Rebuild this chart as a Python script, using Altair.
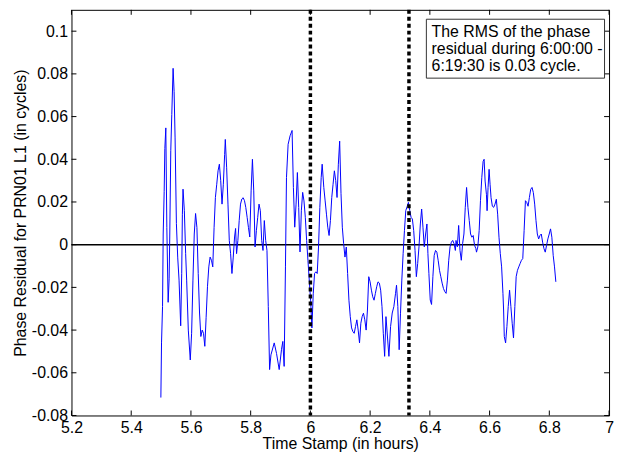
import altair as alt
import pandas as pd

# ---- data ----
time_hours = [
    5.4993, 5.5015, 5.5049, 5.5071, 5.5104, 5.5126, 5.5159, 5.5193, 5.5237, 5.5270,
    5.5292, 5.5325, 5.5359, 5.5403, 5.5436, 5.5469, 5.5513, 5.5558, 5.5602, 5.5657,
    5.5691, 5.5713, 5.5735, 5.5779, 5.5823, 5.5857, 5.5912, 5.5978, 5.6023, 5.6067,
    5.6111, 5.6155, 5.6200, 5.6244, 5.6288, 5.6332, 5.6377, 5.6421, 5.6465, 5.6509,
    5.6554, 5.6598, 5.6642, 5.6687, 5.6731, 5.6775, 5.6819, 5.6864, 5.6908, 5.6952,
    5.6997, 5.7041, 5.7085, 5.7129, 5.7151, 5.7196, 5.7240, 5.7284, 5.7328, 5.7373,
    5.7417, 5.7461, 5.7495, 5.7528, 5.7572, 5.7616, 5.7660, 5.7705, 5.7749, 5.7793,
    5.7837, 5.7882, 5.7926, 5.7970, 5.8015, 5.8059, 5.8103, 5.8147, 5.8192, 5.8236,
    5.8280, 5.8324, 5.8369, 5.8413, 5.8457, 5.8502, 5.8546, 5.8590,
    5.8634, 5.8679, 5.8789, 5.8867, 5.8955, 5.9033, 5.9077, 5.9121, 5.9165, 5.9199,
    5.9254, 5.9320, 5.9387, 5.9431, 5.9475, 5.9520, 5.9564, 5.9608, 5.9652, 5.9697,
    5.9741, 5.9785, 5.9830, 5.9874, 5.9918, 5.9962, 6.0007, 6.0051, 6.0095, 6.0139,
    6.0184, 6.0228, 6.0272, 6.0316, 6.0361, 6.0394, 6.0449, 6.0494, 6.0538, 6.0582,
    6.0626, 6.0671, 6.0715, 6.0759, 6.0803, 6.0848, 6.0892, 6.0936, 6.0980, 6.1025,
    6.1069, 6.1113, 6.1158, 6.1202, 6.1246, 6.1290, 6.1335, 6.1379, 6.1423, 6.1467,
    6.1512, 6.1556, 6.1600, 6.1645, 6.1689, 6.1733, 6.1777, 6.1822, 6.1866, 6.1910,
    6.1954, 6.1999, 6.2043, 6.2087, 6.2131, 6.2176, 6.2220, 6.2264, 6.2309, 6.2353,
    6.2397, 6.2441, 6.2486, 6.2530,
    6.2629, 6.2685, 6.2740, 6.2795, 6.2851, 6.2884, 6.2928, 6.2972, 6.3017, 6.3061,
    6.3105, 6.3149, 6.3194, 6.3238, 6.3282, 6.3327, 6.3371, 6.3415, 6.3459, 6.3504,
    6.3548, 6.3592, 6.3636, 6.3681, 6.3725, 6.3769, 6.3813, 6.3858, 6.3902, 6.3935,
    6.3968, 6.4013, 6.4057, 6.4101, 6.4145, 6.4190, 6.4234, 6.4278, 6.4323, 6.4367,
    6.4411, 6.4455, 6.4500, 6.4544, 6.4588, 6.4632, 6.4677, 6.4721, 6.4765, 6.4810,
    6.4854, 6.4876, 6.4920, 6.4964, 6.5009, 6.5053, 6.5097, 6.5141, 6.5186, 6.5230,
    6.5274, 6.5319, 6.5363, 6.5407, 6.5451, 6.5496, 6.5540,
    6.5562, 6.5606, 6.5651, 6.5695, 6.5739, 6.5783, 6.5817, 6.5850, 6.5894, 6.5916,
    6.5949, 6.5983, 6.6016, 6.6049, 6.6093, 6.6137, 6.6182, 6.6226, 6.6270, 6.6315,
    6.6359, 6.6403, 6.6447, 6.6469, 6.6492, 6.6536, 6.6580, 6.6624, 6.6669, 6.6713,
    6.6757, 6.6801, 6.6846, 6.6890, 6.6934, 6.6978, 6.7023, 6.7067, 6.7111, 6.7156,
    6.7200, 6.7244, 6.7288, 6.7333, 6.7377, 6.7421, 6.7465, 6.7510, 6.7554, 6.7598,
    6.7643, 6.7687, 6.7731, 6.7775, 6.7820, 6.7864, 6.7908, 6.7952, 6.7997, 6.8041,
    6.8085, 6.8130, 6.8174, 6.8218,
]

residual_cycles = [
    -0.0716, -0.046, -0.029, 0.005, 0.025, 0.045, 0.0547, 0.008, -0.027, -0.016,
    0.005, 0.044, 0.061, 0.0826, 0.0718, 0.05, 0.0099, -0.0062, -0.0166, -0.038,
    -0.0134, 0.014, 0.026, 0.0161, -0.0042, -0.0166, -0.040, -0.054, -0.0415, -0.0166,
    0.005, 0.0146, 0.008, -0.0135, -0.032, -0.043, -0.040, -0.0415, -0.0476, -0.034,
    -0.0197, -0.0104, -0.0058, -0.0073, -0.0104, 0.008, 0.0221, 0.0283, 0.0346, 0.0377,
    0.030, 0.019, 0.0283, 0.0423, 0.0493, 0.036, 0.019, 0.002, -0.0042, -0.0135,
    -0.0058, 0.0036, 0.0076, -0.0042, 0.002, 0.0113, 0.019, 0.0214, 0.022, 0.0206,
    0.0174, 0.0128, 0.008, 0.0036, 0.0252, 0.040, 0.0252, -0.0011, 0.0067, 0.0128,
    0.019, 0.0159, 0.002, -0.0027, 0.0113, 0.002, -0.0027, -0.029,
    -0.0585, -0.0516, -0.046, -0.051, -0.0585, -0.049, -0.0453, -0.057, -0.0104, 0.0314,
    0.047, 0.051, 0.0535, 0.0268, 0.0082, 0.019, 0.0338, 0.0174, -0.0034, 0.0159,
    0.0245, 0.0205, 0.0128, 0.002, -0.0074, -0.0166, -0.026, -0.039, -0.023, -0.0135,
    -0.0127, -0.0135, -0.0011, 0.0174, 0.0314, 0.0377, 0.0268, 0.0205, 0.0143, 0.0082,
    0.0043, 0.0113, 0.0221, 0.0283, 0.0346, 0.030, 0.0221, 0.0377, 0.0485, 0.024,
    0.0082, 0.0005, -0.0058, -0.0011, -0.0135, -0.026, -0.0337, -0.039, -0.0407, -0.0415,
    -0.0383, -0.0352, -0.040, -0.046, -0.0368, -0.0337, -0.0321, -0.0352, -0.040, -0.0306,
    -0.015, -0.0174, -0.0213, -0.0244, -0.026, -0.0228, -0.0197, -0.0174, -0.018, -0.0213,
    -0.029, -0.0415, -0.0523, -0.0337,
    -0.0523, -0.0383, -0.032, -0.029, -0.0228, -0.019, -0.029, -0.0492, -0.0321, -0.0166,
    -0.0042, 0.0066, 0.016, 0.0178, 0.0198, 0.016, 0.0128, 0.012, 0.0066, -0.0027,
    -0.015, -0.0088, -0.001, 0.0097, 0.0167, 0.0082, -0.001, 0.005, 0.0097, -0.0042,
    -0.0135, -0.0259, -0.028, -0.015, -0.005, -0.0027, -0.0035, -0.0073, -0.012, -0.015,
    -0.018, -0.0205, -0.022, -0.0228, -0.0166, -0.0073, -0.001, 0.0012, 0.002, 0.0005,
    -0.0027, 0.002, -0.001, 0.009, -0.0027, -0.0073, 0.0005, 0.005, 0.0175, 0.0268,
    0.0175, 0.0113, 0.005, 0.0035, 0.0043, -0.0003, -0.0018,
    -0.0035, -0.001, 0.0066, 0.0206, 0.0314, 0.039, 0.040, 0.0298, 0.0236, 0.0159,
    0.0268, 0.0353, 0.0283, 0.022, 0.018, 0.0175, 0.019, 0.0213, 0.0143, 0.0035,
    -0.0042, -0.0104, -0.0228, -0.0306, -0.043, -0.046, -0.0383, -0.029, -0.0213, -0.029,
    -0.0368, -0.0437, -0.029, -0.015, -0.012, -0.0104, -0.0088, -0.0073, -0.0065, 0.0066,
    0.0206, 0.0198, 0.018, 0.0221, 0.0259, 0.0268, 0.0244, 0.019, 0.0113, 0.005,
    0.0027, 0.0043, 0.005, 0.0012, -0.0018, -0.0035, -0.0003, 0.0027, 0.005, 0.0074,
    0.0035, -0.005, -0.0104, -0.0174,
]

x_ticks = [5.2, 5.4, 5.6, 5.8, 6.0, 6.2, 6.4, 6.6, 6.8, 7.0]
y_ticks = [-0.08, -0.06, -0.04, -0.02, 0.0, 0.02, 0.04, 0.06, 0.08, 0.1]
marker_times = [6.0, 6.33]
note_lines = ["The RMS of the phase", "residual during 6:00:00 -", "6:19:30 is 0.03 cycle."]

assert len(time_hours) == len(residual_cycles)

W, H = 542, 409
FONT = "Liberation Sans"
FS = 16

xscale = alt.Scale(domain=[5.2, 7.0], nice=False, zero=False)
yscale = alt.Scale(domain=[-0.08, 0.11], nice=False, zero=False)

xaxis = alt.Axis(values=x_ticks, labelExpr="datum.value + ''", title="Time Stamp (in hours)",
                 ticks=False, domain=False, grid=False, labelFont=FONT, labelFontSize=FS,
                 labelColor="black", labelPadding=4, labelFlush=False, labelOverlap=False,
                 titleFont=FONT, titleFontSize=FS, titleFontWeight="normal", titleColor="black",
                 titleY=33, titleBaseline="alphabetic")
yaxis = alt.Axis(values=y_ticks, labelExpr="datum.value + ''",
                 title="Phase Residual for PRN01 L1 (in cycles)",
                 ticks=False, domain=False, grid=False, labelFont=FONT, labelFontSize=FS,
                 labelColor="black", labelPadding=4, labelFlush=False, labelOverlap=False,
                 titleFont=FONT, titleFontSize=FS, titleFontWeight="normal", titleColor="black",
                 titleX=-51, titleY=H / 2, titleAngle=270, titleAlign="center",
                 titleBaseline="middle")

series = pd.DataFrame({"t": time_hours, "r": residual_cycles})
xt = pd.DataFrame({"t": x_ticks})
yt = pd.DataFrame({"r": y_ticks})
marks = pd.DataFrame({"t": marker_times})
single = pd.DataFrame({"k": [0]})

X = lambda: alt.X("t:Q", scale=xscale, axis=xaxis)
Y = lambda: alt.Y("r:Q", scale=yscale, axis=yaxis)

line = alt.Chart(series).mark_line(color="#0000FF", strokeWidth=1).encode(x=X(), y=Y())

zero = alt.Chart(single).mark_rule(color="black", strokeWidth=1.5).encode(
    y=alt.Y(datum=0, scale=yscale, axis=yaxis))

dotted = alt.Chart(marks).mark_rule(color="black", strokeWidth=3.5, strokeDash=[4, 3]).encode(x=X())

tick_len = 5
xt_bottom = alt.Chart(xt).mark_rule(color="black").encode(x=X(), y=alt.value(H), y2=alt.value(H - tick_len))
xt_top = alt.Chart(xt).mark_rule(color="black").encode(x=X(), y=alt.value(0), y2=alt.value(tick_len))
yt_left = alt.Chart(yt).mark_rule(color="black").encode(y=Y(), x=alt.value(0), x2=alt.value(tick_len))
yt_right = alt.Chart(yt).mark_rule(color="black").encode(y=Y(), x=alt.value(W), x2=alt.value(W - tick_len))

box = alt.Chart(single).mark_rect(fill="white", stroke="#333333", strokeWidth=1).encode(
    x=alt.X(datum=6.3883, scale=xscale, axis=xaxis), x2=alt.X2(datum=6.9849),
    y=alt.Y(datum=0.1056, scale=yscale, axis=yaxis), y2=alt.Y2(datum=0.0780))

note = alt.Chart(single).mark_text(text=note_lines, align="left", baseline="top", font=FONT,
                                   fontSize=16, lineHeight=17.4, color="black").encode(
    x=alt.X(datum=6.4058, scale=xscale, axis=xaxis),
    y=alt.Y(datum=0.1034, scale=yscale, axis=yaxis))

chart = alt.layer(zero, line, dotted, xt_bottom, xt_top, yt_left, yt_right, box, note).properties(
    width=W, height=H, autosize="none",
    padding={"left": 64, "top": 0, "right": 6, "bottom": 38},
    background="white",
).configure_view(stroke="black", strokeWidth=1)

chart.save("out.html", embed_options={"renderer": "svg", "actions": False})
